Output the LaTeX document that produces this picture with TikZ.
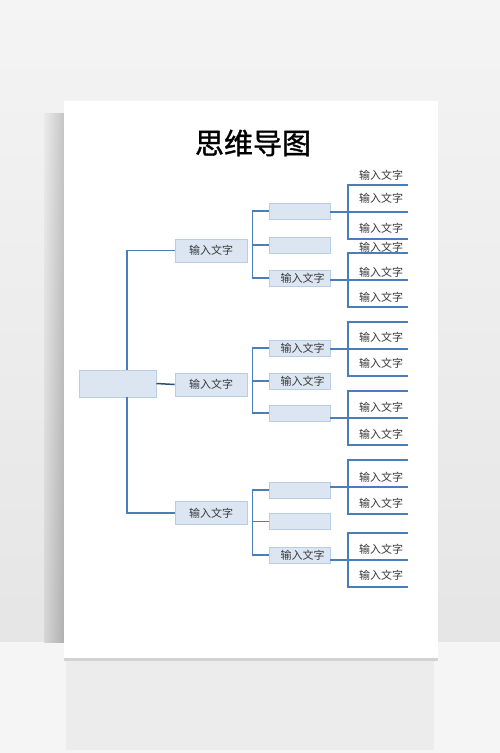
\documentclass[tikz,border=0pt]{standalone}
\usepackage{fontspec}
\usepackage{tikz}
\usetikzlibrary{calc}
\newfontfamily\cjk{Noto Sans CJK SC}
\newfontfamily\cjkhead{Noto Sans CJK SC}[FakeBold=1.2]
\definecolor{wire}{HTML}{4A7EBB}
\definecolor{wiredark}{HTML}{2B4F76}
\definecolor{boxfill}{HTML}{DCE6F2}
\definecolor{boxline}{HTML}{B9CDE5}
\definecolor{ink}{HTML}{3A3A3A}
\definecolor{wall}{HTML}{F4F4F4}
\definecolor{floor}{HTML}{F5F5F5}
\tikzset{
  link/.style={draw=wire, line width=1.5pt},
  hub/.style={draw=boxline, fill=boxfill, line width=0.8pt, minimum width=77pt, minimum height=27pt},
  topic/.style={draw=boxline, fill=boxfill, line width=0.8pt, minimum width=72pt, minimum height=23pt, inner sep=0pt, text=ink, font=\cjk\fontsize{11}{13}\selectfont},
  sub/.style={topic, minimum width=61pt, minimum height=16pt},
  leaf/.style={inner sep=0pt, text=ink, font=\cjk\fontsize{11}{13}\selectfont},
}

\begin{document}
\begin{tikzpicture}[x=1pt,y=-1pt]
  \useasboundingbox (0,0) rectangle (500,753);
  \shade[top color=wall, bottom color=gray!20] (0,0) rectangle (500,642);
  \fill[floor] (0,642) rectangle (500,753);
  \fill[gray!15] (66,660) rectangle (434,750);
  \shade[top color=wall, bottom color=gray!50] (44,113) rectangle (64,642);
  \shade[left color=gray!20, right color=gray!70, opacity=0.6] (44,113) rectangle (64,642);
  \fill[gray!35] (64,656) rectangle (438,661);
  \fill[white] (64,101) rectangle (438,658);

  \node[font=\cjkhead\fontsize{29}{32}\selectfont] (title) at (253,143) {思维导图};

  \node[hub] (root) at (117.5,383.5) {};
  \node[topic] (t1) at (211,250.5) {输入文字};
  \node[topic] (t2) at (211,384.5) {输入文字};
  \node[topic] (t3) at (211,513) {输入文字};
  \coordinate (trunk) at (127,0);
  \draw[link] (t1.west) -| (root.north -| trunk);
  \draw[link] (t3.west) -| (root.south -| trunk);
  \draw[link,draw=wiredark] (root.east) -- (t2.west);

  \node[sub] (s11) at (299.5,211) {};
  \node[sub] (s12) at (299.5,245) {};
  \node[sub] (s13) at (299.5,278) {\hspace{6pt}输入文字};
  \node[sub] (s21) at (299.5,348) {\hspace{6pt}输入文字};
  \node[sub] (s22) at (299.5,381) {\hspace{6pt}输入文字};
  \node[sub] (s23) at (299.5,413) {};
  \node[sub] (s31) at (299.5,490) {};
  \node[sub] (s32) at (299.5,521.5) {};
  \node[sub] (s33) at (299.5,555) {\hspace{6pt}输入文字};
  \foreach \g in {1,2,3}{
    \draw[link] (s\g1.west) -- ++(-16,0) |- (s\g3.west);
    \draw[link] (s\g2.west) -- ++(-16,0);
  }

  \foreach \n/\y in {11/212,13/280,21/349,23/418,31/487,33/560}{
    \coordinate (f\n) at (348,\y);
    \draw[link] (s\n.east |- f\n) -- (f\n) -- ++(60,0);
    \draw[link] ($(f\n)+(60,-27)$) -- ++(-60,0) -- ++(0,54) -- ++(60,0);
  }

  \foreach \y [count=\k] in {175,198,228,247,272,297,337,363,407,434,477,503,549,575}
    \node[leaf] (leaf\k) at (381,\y) {输入文字};
\end{tikzpicture}
\end{document}
